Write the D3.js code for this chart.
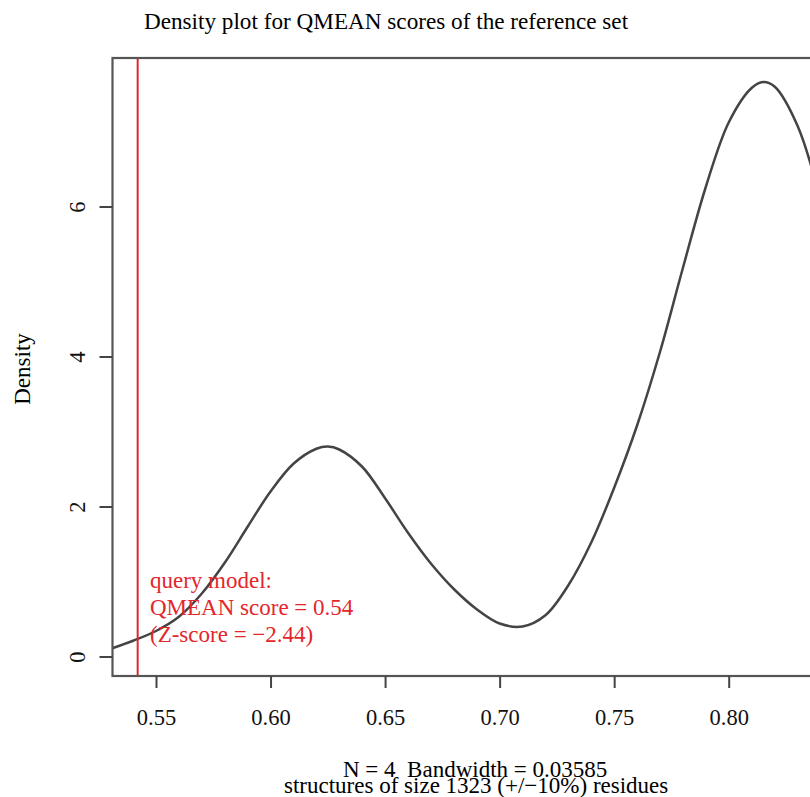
<!DOCTYPE html>
<html>
<head>
<meta charset="utf-8">
<script src="https://cdn.jsdelivr.net/npm/d3@7"></script>
<style>
  body { margin: 0; background: #fff; }
  svg { display: block; font-family: "Liberation Serif", "Times New Roman", serif; }
</style>
</head>
<body>
<div id="chart"></div>
<script>
// density curve (QMEAN score, density)
const scores = [0.53, 0.54, 0.55, 0.56, 0.57, 0.58, 0.59, 0.60, 0.61, 0.62, 0.625, 0.63,
  0.64, 0.65, 0.66, 0.67, 0.68, 0.69, 0.70, 0.71, 0.72, 0.73, 0.74, 0.75,
  0.76, 0.77, 0.78, 0.79, 0.80, 0.81, 0.815, 0.82, 0.83, 0.84];
const density = [0.10, 0.21, 0.34, 0.53, 0.84, 1.25, 1.73, 2.20, 2.57, 2.77, 2.80, 2.76,
  2.53, 2.11, 1.65, 1.24, 0.90, 0.63, 0.44, 0.40, 0.55, 0.95, 1.52, 2.25,
  3.08, 4.06, 5.18, 6.26, 7.12, 7.58, 7.66, 7.60, 7.08, 6.10];
const xTicks = [0.55, 0.60, 0.65, 0.70, 0.75, 0.80];
const yTicks = [0, 2, 4, 6];
const queryScore = 0.542;
const queryLines = ["query model:", "QMEAN score = 0.54", "(Z-score = \u22122.44)"];

const width = 810, height = 797;
const plot = {left: 112.5, top: 58, right: 830, bottom: 676};

const svg = d3.select("#chart").append("svg")
    .attr("width", width)
    .attr("height", height);

const x = d3.scaleLinear().domain([0.55, 0.80]).range([156, 728.7]);
const y = d3.scaleLinear().domain([0, 6]).range([656.5, 206.5]);

svg.append("clipPath").attr("id", "clip")
  .append("rect")
    .attr("x", plot.left).attr("y", plot.top)
    .attr("width", plot.right - plot.left).attr("height", plot.bottom - plot.top);

// title
svg.append("text")
    .attr("x", 386).attr("y", 29)
    .attr("text-anchor", "middle")
    .style("font-size", "23.2px")
    .text("Density plot for QMEAN scores of the reference set");

// density curve
const data = scores.map((s, i) => ({s, d: density[i]}));
svg.append("path")
    .datum(data)
    .attr("clip-path", "url(#clip)")
    .attr("fill", "none")
    .attr("stroke", "#444")
    .attr("stroke-width", 2.5)
    .attr("d", d3.line().x(d => x(d.s)).y(d => y(d.d)).curve(d3.curveCatmullRom.alpha(0.5)));

// query model line
svg.append("line")
    .attr("x1", x(queryScore)).attr("x2", x(queryScore))
    .attr("y1", plot.top).attr("y2", plot.bottom)
    .attr("stroke", "#e3262b")
    .attr("stroke-width", 2);

svg.append("g")
    .attr("fill", "#e3262b")
    .style("font-size", "23px")
  .selectAll("text")
  .data(queryLines)
  .join("text")
    .attr("x", 150)
    .attr("y", (d, i) => 588 + i * 26.8)
    .text(d => d);

// box
svg.append("rect")
    .attr("x", plot.left).attr("y", plot.top)
    .attr("width", plot.right - plot.left).attr("height", plot.bottom - plot.top)
    .attr("fill", "none")
    .attr("stroke", "#555")
    .attr("stroke-width", 2.2);

// x axis
const xAxis = svg.append("g")
    .attr("transform", `translate(0,${plot.bottom})`)
    .call(d3.axisBottom(x).tickValues(xTicks).tickSize(12).tickFormat(d3.format(".2f")));
xAxis.select(".domain").remove();
xAxis.selectAll("line").attr("stroke", "#444").attr("stroke-width", 2);
xAxis.selectAll("text")
    .attr("y", 49).attr("dy", null)
    .attr("fill", "#111")
    .style("font-family", "Liberation Serif, serif")
    .style("font-size", "22.5px");

// y axis
const yAxis = svg.append("g")
    .attr("transform", `translate(${plot.left},0)`)
    .call(d3.axisLeft(y).tickValues(yTicks).tickSize(13).tickFormat(d3.format("d")));
yAxis.select(".domain").remove();
yAxis.selectAll("line").attr("stroke", "#444").attr("stroke-width", 2);
yAxis.selectAll("text")
    .attr("x", null).attr("dy", null)
    .attr("transform", "translate(-28,0) rotate(-90)")
    .attr("text-anchor", "middle")
    .attr("y", 0)
    .attr("fill", "#111")
    .style("font-family", "Liberation Serif, serif")
    .style("font-size", "22.5px");

svg.append("text")
    .attr("transform", "translate(30,369) rotate(-90)")
    .attr("text-anchor", "middle")
    .style("font-size", "23px")
    .text("Density");

// sub-labels under the axis (they overlap in the original too)
svg.append("text")
    .attr("x", 343).attr("y", 777)
    .style("font-size", "23px")
    .style("white-space", "pre")
    .text("N = 4  Bandwidth = 0.03585");
svg.append("text")
    .attr("x", 284).attr("y", 793)
    .style("font-size", "23px")
    .text("structures of size 1323 (+/\u221210%) residues");
</script>
</body>
</html>
